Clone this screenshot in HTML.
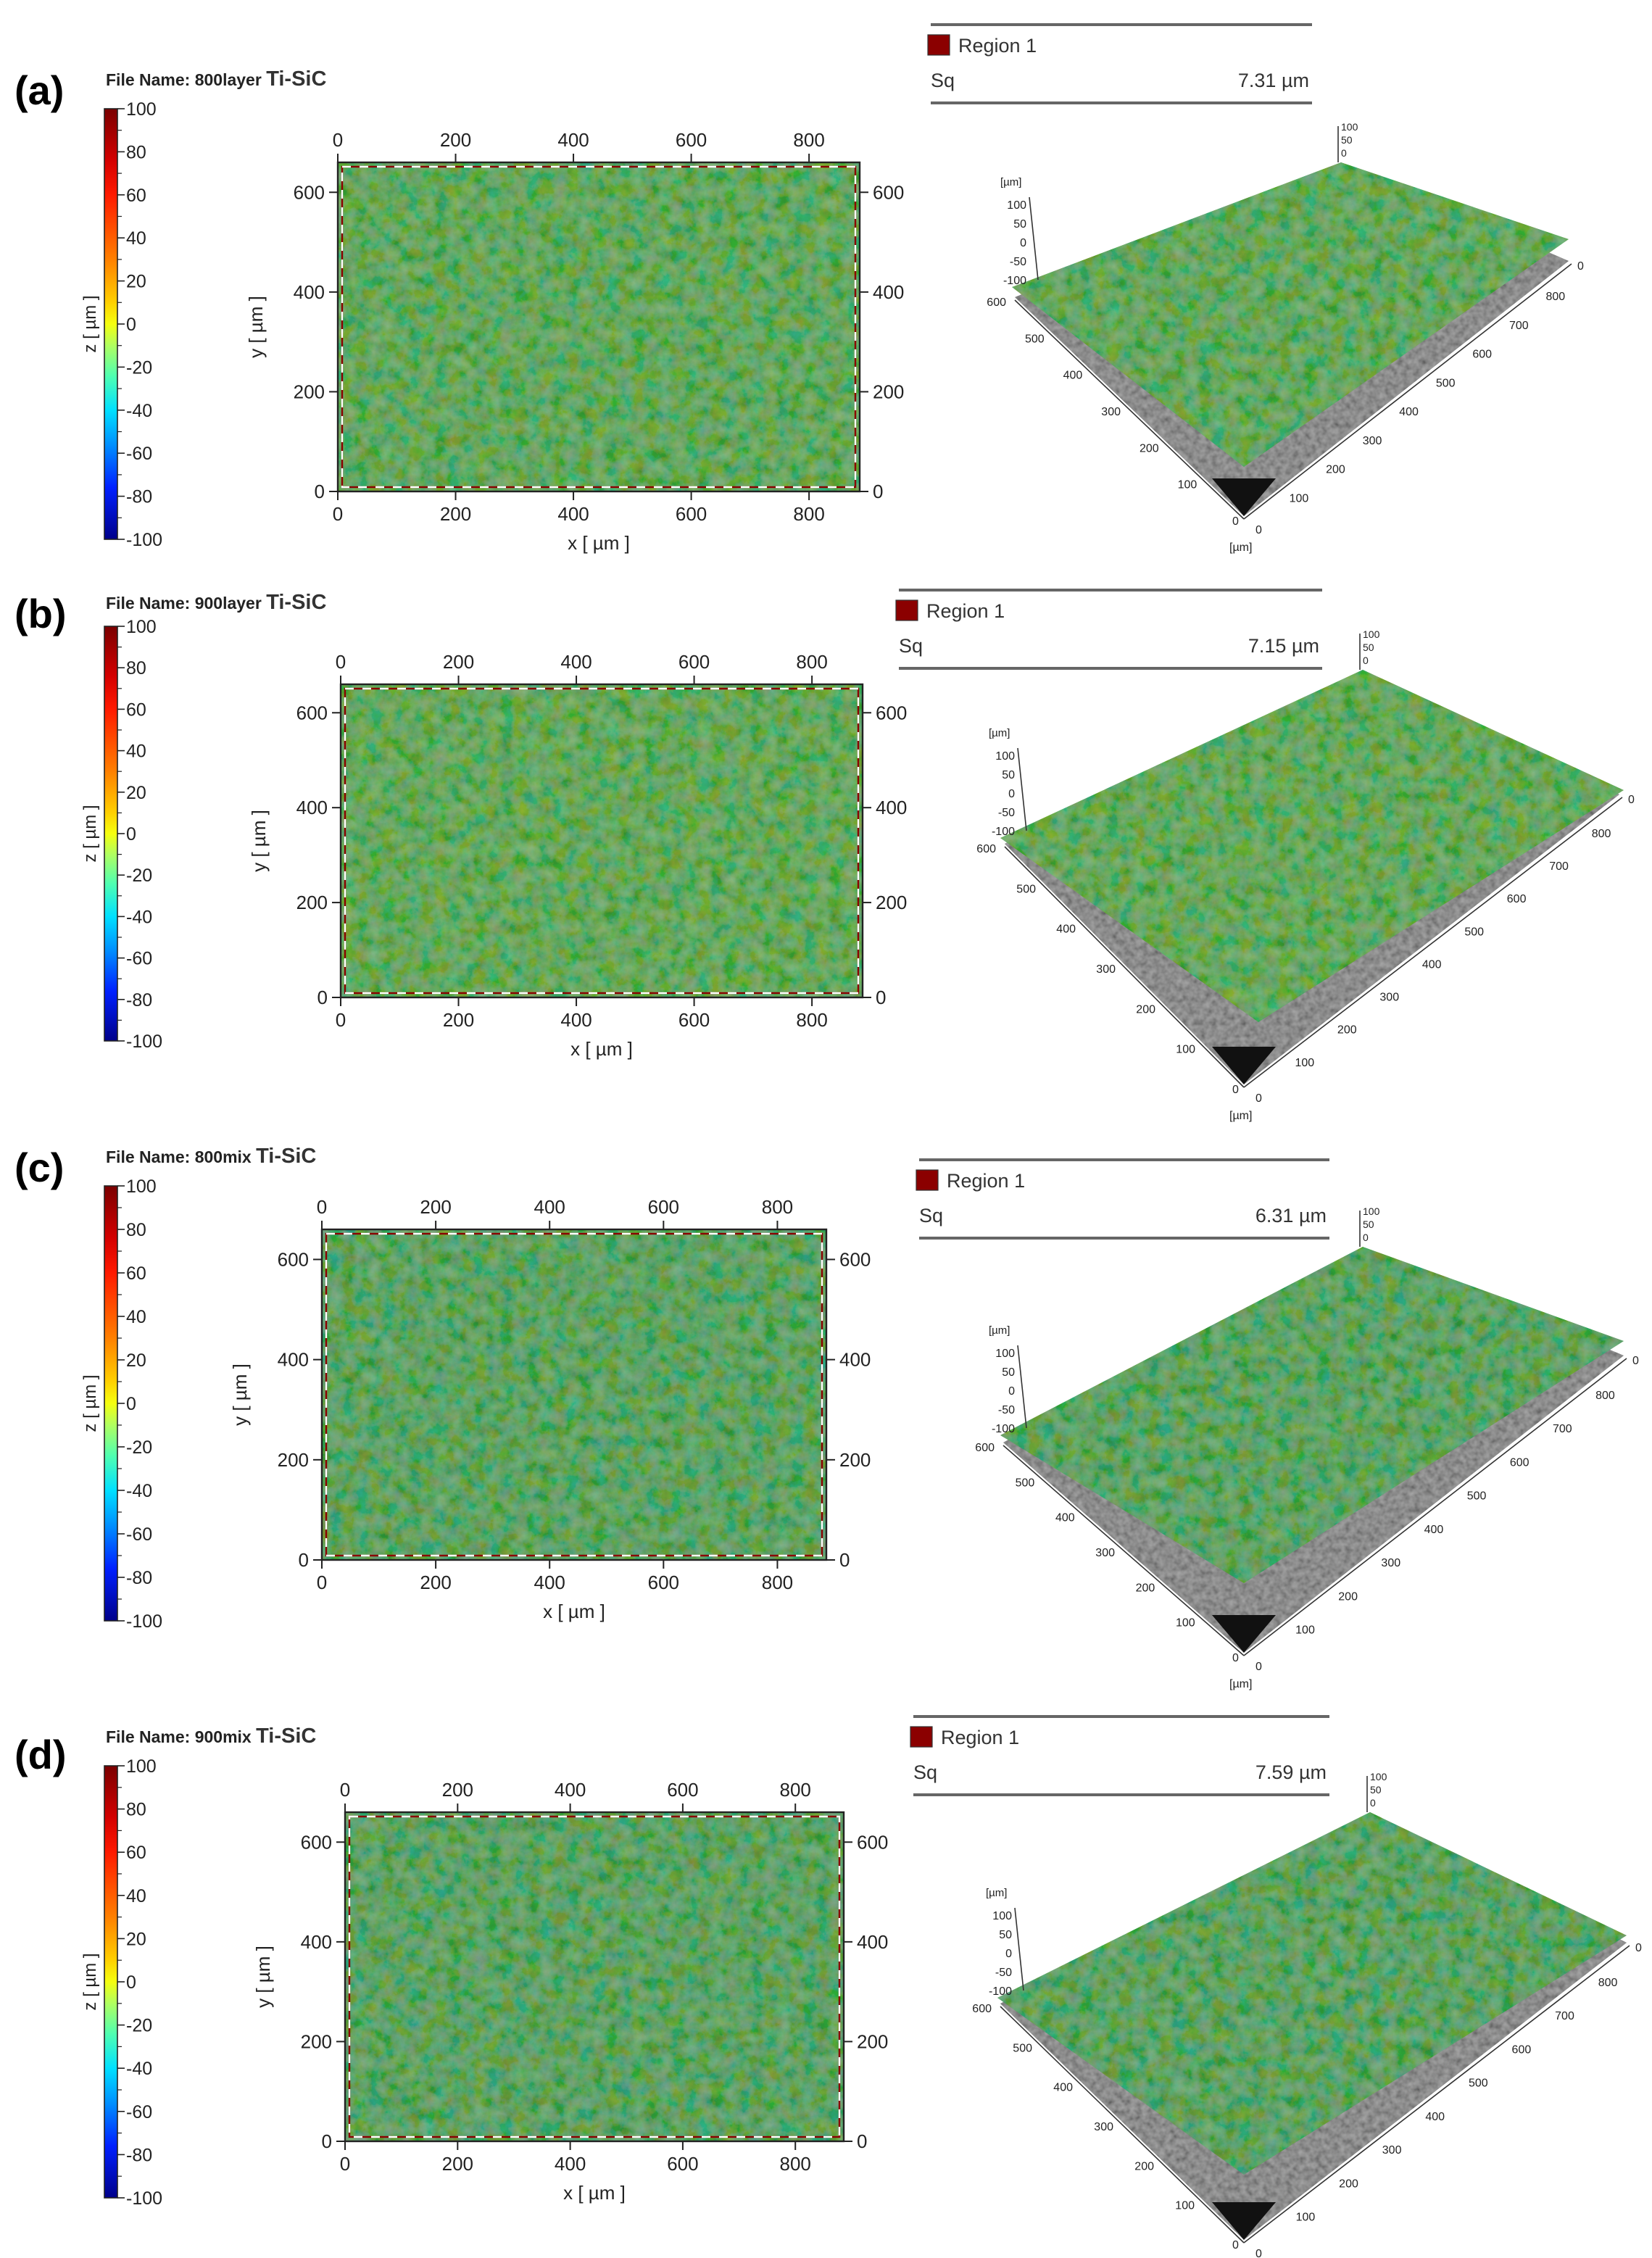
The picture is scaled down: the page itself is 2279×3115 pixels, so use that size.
<!DOCTYPE html>
<html><head><meta charset="utf-8"><style>
html,body{margin:0;padding:0;background:#fff;}
svg{display:block;}
text{font-family:"Liberation Sans",sans-serif;}
</style></head><body>
<svg id="fig" width="2279" height="3115" viewBox="0 0 1139.5 1557.5" xmlns="http://www.w3.org/2000/svg">
<defs>
<linearGradient id="jet" x1="0" y1="0" x2="0" y2="1">
<stop offset="0" stop-color="#7a0000"/><stop offset="0.12" stop-color="#d40000"/><stop offset="0.2" stop-color="#ff1a00"/>
<stop offset="0.35" stop-color="#ff8000"/><stop offset="0.45" stop-color="#ffd000"/><stop offset="0.5" stop-color="#f5ff10"/>
<stop offset="0.55" stop-color="#b0ff60"/><stop offset="0.62" stop-color="#50ffb0"/><stop offset="0.7" stop-color="#00e0ff"/>
<stop offset="0.78" stop-color="#0090ff"/><stop offset="0.88" stop-color="#0020ff"/><stop offset="1" stop-color="#00008a"/>
</linearGradient>
<filter id="tex" x="0" y="0" width="1" height="1">
<feTurbulence type="fractalNoise" baseFrequency="0.11" numOctaves="4" seed="3" result="n"/>
<feColorMatrix in="n" type="matrix" values="1.3 0 0 0 -0.4  0 0.7 0.3 0 0.1  0 0 1.3 0 -0.45  0 0 0 0 0.38"/>
</filter>
<filter id="grayt" x="0" y="0" width="1" height="1">
<feTurbulence type="fractalNoise" baseFrequency="0.25" numOctaves="2" seed="7"/>
<feColorMatrix type="matrix" values="0.8 0 0 0 0  0.8 0 0 0 0  0.8 0 0 0 0  0 0 0 0 0.5"/>
</filter>
</defs>
</svg>
<script>
const NS="http://www.w3.org/2000/svg";
const svg=document.getElementById('fig');
// data arrays
const panelLabels=["(a)","(b)","(c)","(d)"];
const fileNames=["800layer","900layer","800mix","900mix"];
const sqValues=["7.31","7.15","6.31","7.59"];
const colorbarTicks=[100,80,60,40,20,0,-20,-40,-60,-80,-100];
const xTicks=[0,200,400,600,800];
const yTicks=[0,200,400,600];
const xMax=886, yMax=660;
const leftEdgeTicks=[600,500,400,300,200,100];
const rightEdgeTicks=[800,700,600,500,400,300,200,100];
// layout per panel (half-scale px)
const layout=[
 {ly:62,fy:55,cb:[75,372],map:[233,593,112,339],reg:[642,905,17],d3:{L:[698,198],T:[925,112],R:[1082,165],B:[858,322],B0:[858,356],Lb:[700,205],Rb:[1082,180]}},
 {ly:423,fy:416,cb:[432,718],map:[235,595,472,688],reg:[620,912,407],d3:{L:[690,578],T:[940,462],R:[1120,545],B:[868,705],B0:[858,748],Lb:[693,582],Rb:[1117,548]}},
 {ly:805,fy:798,cb:[818,1118],map:[222,570,848,1076],reg:[634,917,800],d3:{L:[690,990],T:[940,860],R:[1120,925],B:[858,1092],B0:[858,1140],Lb:[692,995],Rb:[1120,935]}},
 {ly:1210,fy:1198,cb:[1218,1516],map:[238,582,1250,1477],reg:[630,917,1184],d3:{L:[688,1378],T:[945,1250],R:[1122,1335],B:[858,1500],B0:[858,1545],Lb:[690,1382],Rb:[1122,1340]}}
];
const mapColors=['#4f914f','#52924c','#468a56','#468957'];
function el(tag,attrs,parent,txt){const e=document.createElementNS(NS,tag);for(const k in attrs)e.setAttribute(k,attrs[k]);if(txt!==undefined)e.textContent=txt;(parent||svg).appendChild(e);return e;}
function pts(a){return a.map(p=>p.join(',')).join(' ');}
layout.forEach((P,i)=>{
 const g=el('g',{});
 
 
 const lab=el('text',{x:10,y:P.ly+10,'font-size':28,'font-weight':'bold'},g,panelLabels[i]);
 
 
 const fn=el('text',{x:73,y:P.fy+4,'font-size':11.5,'font-weight':'bold',fill:'#222'},g,'File Name: '+fileNames[i]+' ');
 
 
 el('tspan',{'font-size':14.5,fill:'#333'},fn,'Ti-SiC');
 // colorbar
 const [c0,c1]=P.cb;
 const cb=el('rect',{x:72,y:c0,width:9,height:c1-c0,fill:'url(#jet)',stroke:'#222','stroke-width':0.8},g);
 
 
 const cz=v=>c0+(100-v)/200*(c1-c0);
 colorbarTicks.forEach(v=>{
  el('line',{x1:81,x2:86,y1:cz(v),y2:cz(v),stroke:'#222','stroke-width':0.8},g);
  const t=el('text',{x:87,y:cz(v)+4.5,'font-size':12.5,fill:'#222'},g,v<0?'-'+(-v):String(v));
  
  
 });
 for(let v=90;v>-100;v-=20){el('line',{x1:81,x2:84,y1:cz(v),y2:cz(v),stroke:'#222','stroke-width':0.6},g);}
 const zt=el('text',{x:0,y:0,'font-size':12,fill:'#222','text-anchor':'middle',transform:`translate(66,${(c0+c1)/2}) rotate(-90)`},g,'z [ µm ]');
 
 
 // 2D map
 const [mx0,mx1,my0,my1]=P.map;
 const sx=v=>mx0+v/xMax*(mx1-mx0), sy=v=>my1-v/yMax*(my1-my0);
 const base=el('rect',{x:mx0,y:my0,width:mx1-mx0,height:my1-my0,fill:mapColors[i]},g);
 
 
 el('rect',{x:mx0,y:my0,width:mx1-mx0,height:my1-my0,filter:'url(#tex)'},g);
 el('rect',{x:mx0,y:my0,width:mx1-mx0,height:my1-my0,fill:'none',stroke:'#222','stroke-width':1.2},g);
 el('rect',{x:mx0+3,y:my0+3,width:mx1-mx0-6,height:my1-my0-6,fill:'none',stroke:'#8b0000','stroke-width':1.2},g);
 el('rect',{x:mx0+3,y:my0+3,width:mx1-mx0-6,height:my1-my0-6,fill:'none',stroke:'#fff','stroke-width':1.2,'stroke-dasharray':'6 6'},g);
 xTicks.forEach(v=>{
  el('line',{x1:sx(v),x2:sx(v),y1:my0,y2:my0-6,stroke:'#222'},g);
  el('line',{x1:sx(v),x2:sx(v),y1:my1,y2:my1+6,stroke:'#222'},g);
  const t1=el('text',{x:sx(v),y:my0-11,'font-size':13,fill:'#222','text-anchor':'middle'},g,String(v));
  
  
  const t2=el('text',{x:sx(v),y:my1+20,'font-size':13,fill:'#222','text-anchor':'middle'},g,String(v));
  
  
 });
 yTicks.forEach(v=>{
  el('line',{x1:mx0,x2:mx0-6,y1:sy(v),y2:sy(v),stroke:'#222'},g);
  el('line',{x1:mx1,x2:mx1+6,y1:sy(v),y2:sy(v),stroke:'#222'},g);
  const t1=el('text',{x:mx0-9,y:sy(v)+4.5,'font-size':13,fill:'#222','text-anchor':'end'},g,String(v));
  
  
  const t2=el('text',{x:mx1+9,y:sy(v)+4.5,'font-size':13,fill:'#222'},g,String(v));
  
  
 });
 const xt=el('text',{x:(mx0+mx1)/2,y:my1+40,'font-size':13,fill:'#222','text-anchor':'middle'},g,'x [ µm ]');
 
 
 const yt=el('text',{x:0,y:0,'font-size':13,fill:'#222','text-anchor':'middle',transform:`translate(${mx0-52},${(my0+my1)/2}) rotate(-90)`},g,'y [ µm ]');
 
 
 // region table
 const [rx0,rx1,ry]=P.reg;
 el('line',{x1:rx0,x2:rx1,y1:ry,y2:ry,stroke:'#666','stroke-width':2},g);
 const sw=el('rect',{x:rx0-2,y:ry+7,width:15,height:14,fill:'#8b0000',stroke:'#333','stroke-width':0.6},g);
 
 
 const rt=el('text',{x:rx0+19,y:ry+19,'font-size':13.5,fill:'#333'},g,'Region 1');
 
 
 const sq=el('text',{x:rx0,y:ry+43,'font-size':13.5,fill:'#333'},g,'Sq');
 
 
 const sv=el('text',{x:rx1-2,y:ry+43,'font-size':13.5,fill:'#333','text-anchor':'end'},g,sqValues[i]+' µm');
 
 
 el('line',{x1:rx0,x2:rx1,y1:ry+54,y2:ry+54,stroke:'#666','stroke-width':2},g);
 // 3D view
 const D=P.d3;
 const gid='gclip'+i;
 const gcp=el('clipPath',{id:gid},g);
 el('polygon',{points:pts([D.Lb,D.B0,D.Rb,D.T])},gcp);
 const gb=el('polygon',{points:pts([D.Lb,D.B0,D.Rb,D.T]),fill:'#6e6e6e'},g);
 
 
 el('rect',{x:D.Lb[0],y:D.T[1],width:D.Rb[0]-D.Lb[0],height:D.B0[1]-D.T[1],filter:'url(#grayt)','clip-path':`url(#${gid})`},g);
 el('polygon',{points:pts([[D.B0[0]-22,D.B0[1]-26],D.B0,[D.B0[0]+22,D.B0[1]-26]]),fill:'#111'},g);
 const sf=el('polygon',{points:pts([D.L,D.T,D.R,D.B]),fill:mapColors[i]},g);
 
 
 const cid='clip'+i;
 const cp=el('clipPath',{id:cid},g);
 el('polygon',{points:pts([D.L,D.T,D.R,D.B])},cp);
 el('rect',{x:D.L[0],y:D.T[1],width:D.R[0]-D.L[0],height:D.B[1]-D.T[1],filter:'url(#tex)','clip-path':`url(#${cid})`},g);
 // edges
 el('line',{x1:D.Lb[0],y1:D.Lb[1]+2,x2:D.B0[0],y2:D.B0[1]+2,stroke:'#333','stroke-width':0.8},g);
 el('line',{x1:D.B0[0],y1:D.B0[1]+2,x2:D.Rb[0]+2,y2:D.Rb[1]+2,stroke:'#333','stroke-width':0.8},g);
 leftEdgeTicks.forEach(v=>{
  const f=(600-v)/600;
  const x=D.Lb[0]+(D.B0[0]-D.Lb[0])*f, y=D.Lb[1]+(D.B0[1]-D.Lb[1])*f;
  const t=el('text',{x:x-6,y:y+6,'font-size':8,fill:'#222','text-anchor':'end'},g,String(v));
  
  
 });
 rightEdgeTicks.forEach(v=>{
  const f=v/886;
  const x=D.B0[0]+(D.Rb[0]-D.B0[0])*f, y=D.B0[1]+(D.Rb[1]-D.B0[1])*f;
  const t=el('text',{x:x+6,y:y+10,'font-size':8,fill:'#222'},g,String(v));
  
  
 });
 el('text',{x:D.B0[0]-8,y:D.B0[1]+6,'font-size':8,fill:'#222'},g,'0');
 el('text',{x:D.B0[0]+8,y:D.B0[1]+12,'font-size':8,fill:'#222'},g,'0');
 el('text',{x:D.B0[0]-10,y:D.B0[1]+24,'font-size':8,fill:'#222'},g,'[µm]');
 el('text',{x:D.Rb[0]+6,y:D.Rb[1]+6,'font-size':8,fill:'#222'},g,'0');
 // z axes
 el('line',{x1:D.T[0]-2,x2:D.T[0]-2,y1:D.T[1]-25,y2:D.T[1],stroke:'#333','stroke-width':0.8},g);
 ['100','50','0'].forEach((s,k)=>{el('text',{x:D.T[0],y:D.T[1]-22+k*9,'font-size':7,fill:'#222'},g,s);});
 el('line',{x1:D.L[0]+12,x2:D.L[0]+18,y1:D.L[1]-62,y2:D.L[1]-5,stroke:'#333','stroke-width':0.8},g);
 el('text',{x:D.L[0]-8,y:D.L[1]-70,'font-size':7.5,fill:'#222'},g,'[µm]');
 ['100','50','0','-50','-100'].forEach((s,k)=>{el('text',{x:D.L[0]+10,y:D.L[1]-54+k*13,'font-size':8,fill:'#222','text-anchor':'end'},g,s);});
});
</script>
</body></html>
